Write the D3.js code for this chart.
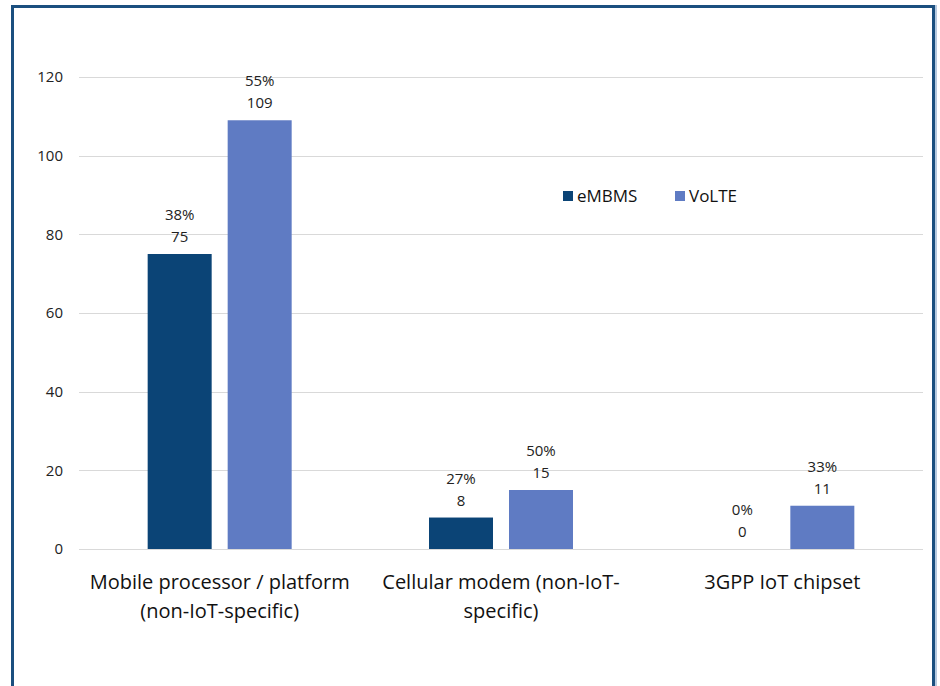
<!DOCTYPE html>
<html>
<head>
<meta charset="utf-8">
<script src="https://cdn.jsdelivr.net/npm/d3@7"></script>
<style>
  html, body { margin: 0; padding: 0; background: #fff; }
  svg { display: block; font-family: "Open Sans", "Noto Sans", sans-serif; }
</style>
</head>
<body>
<svg id="chart" width="940" height="686"></svg>
<script>
// Categories and their wrapped label lines
const categories = [
  "Mobile processor / platform (non-IoT-specific)",
  "Cellular modem (non-IoT-specific)",
  "3GPP IoT chipset"
];
const categoryLines = [
  ["Mobile processor / platform", "(non-IoT-specific)"],
  ["Cellular modem (non-IoT-", "specific)"],
  ["3GPP IoT chipset"]
];
const seriesNames = ["eMBMS", "VoLTE"];
const embmsValues = [75, 8, 0];
const volteValues = [109, 15, 11];
const embmsShares = ["38%", "27%", "0%"];
const volteShares = ["55%", "50%", "33%"];
const yTicks = [0, 20, 40, 60, 80, 100, 120];
const colors = ["#0b4476", "#5f7bc3"];

const svg = d3.select("#chart");

// Outer frame (top, left, right edges)
svg.append("path")
  .attr("d", "M12.5,700 V6.5 H933.5 V700")
  .attr("fill", "none")
  .attr("stroke", "#1b4f7f")
  .attr("stroke-width", 3);
svg.append("line")
  .attr("x1", 936).attr("x2", 936).attr("y1", 5).attr("y2", 700)
  .attr("stroke", "#9fb8d4").attr("stroke-width", 1.5);

const plot = { left: 79, right: 923, top: 77, bottom: 549 };

const y = d3.scaleLinear().domain([0, 120]).range([plot.bottom, plot.top]);
const x0 = d3.scaleBand().domain(categories).range([plot.left, plot.right]).padding(0);
const groupWidth = 144;
const x1 = d3.scaleBand().domain(seriesNames)
  .range([(x0.bandwidth() - groupWidth) / 2, (x0.bandwidth() + groupWidth) / 2])
  .paddingInner(0.2).paddingOuter(0);

// Gridlines
svg.append("g")
  .selectAll("line")
  .data(yTicks)
  .join("line")
  .attr("x1", plot.left).attr("x2", plot.right)
  .attr("y1", d => Math.round(y(d)) + 0.5).attr("y2", d => Math.round(y(d)) + 0.5)
  .attr("stroke", "#d9d9d9").attr("stroke-width", 1.2);

// Y axis labels
const yAxis = d3.axisLeft(y).tickValues(yTicks).tickSize(0).tickPadding(0);
svg.append("g")
  .attr("transform", `translate(63,0)`)
  .call(yAxis)
  .call(g => g.select(".domain").remove())
  .call(g => g.selectAll("text")
    .attr("font-family", "'Open Sans', 'Noto Sans', sans-serif")
    .attr("font-size", 15).attr("fill", "#222"));

const rows = categories.map((c, i) => ({
  cat: c,
  items: [
    { s: seriesNames[0], v: embmsValues[i], p: embmsShares[i] },
    { s: seriesNames[1], v: volteValues[i], p: volteShares[i] }
  ]
}));

const groups = svg.append("g")
  .selectAll("g")
  .data(rows)
  .join("g")
  .attr("transform", d => `translate(${x0(d.cat)},0)`);

groups.selectAll("rect")
  .data(d => d.items)
  .join("rect")
  .attr("x", d => x1(d.s))
  .attr("width", x1.bandwidth())
  .attr("y", d => y(d.v))
  .attr("height", d => y(0) - y(d.v))
  .attr("fill", (d, i) => colors[i]);

// Value labels: share on top line, count below
const labels = groups.selectAll("g.lbl")
  .data(d => d.items)
  .join("g")
  .attr("class", "lbl")
  .attr("transform", d => `translate(${x1(d.s) + x1.bandwidth() / 2},${y(d.v)})`)
  .attr("text-anchor", "middle")
  .attr("font-size", 15)
  .attr("fill", "#222");
labels.append("text").attr("y", -34).text(d => d.p);
labels.append("text").attr("y", -12).text(d => d.v);

// Category labels
const catG = svg.append("g")
  .selectAll("text")
  .data(categories)
  .join("text")
  .attr("x", d => x0(d) + x0.bandwidth() / 2)
  .attr("y", 589)
  .attr("text-anchor", "middle")
  .attr("font-size", 20)
  .attr("fill", "#111");
catG.selectAll("tspan")
  .data((d, i) => categoryLines[i])
  .join("tspan")
  .attr("x", function () { return this.parentNode.getAttribute("x"); })
  .attr("dy", (d, i) => i === 0 ? 0 : 29)
  .text(d => d);

// Legend
const legendX = [563, 675];
const legend = svg.append("g")
  .selectAll("g")
  .data(seriesNames)
  .join("g")
  .attr("transform", (d, i) => `translate(${legendX[i]},191)`);
legend.append("rect").attr("width", 10).attr("height", 10).attr("fill", (d, i) => colors[i]);
legend.append("text").attr("x", 14).attr("y", 11).attr("font-size", 17).attr("fill", "#111").text(d => d);
</script>
</body>
</html>
